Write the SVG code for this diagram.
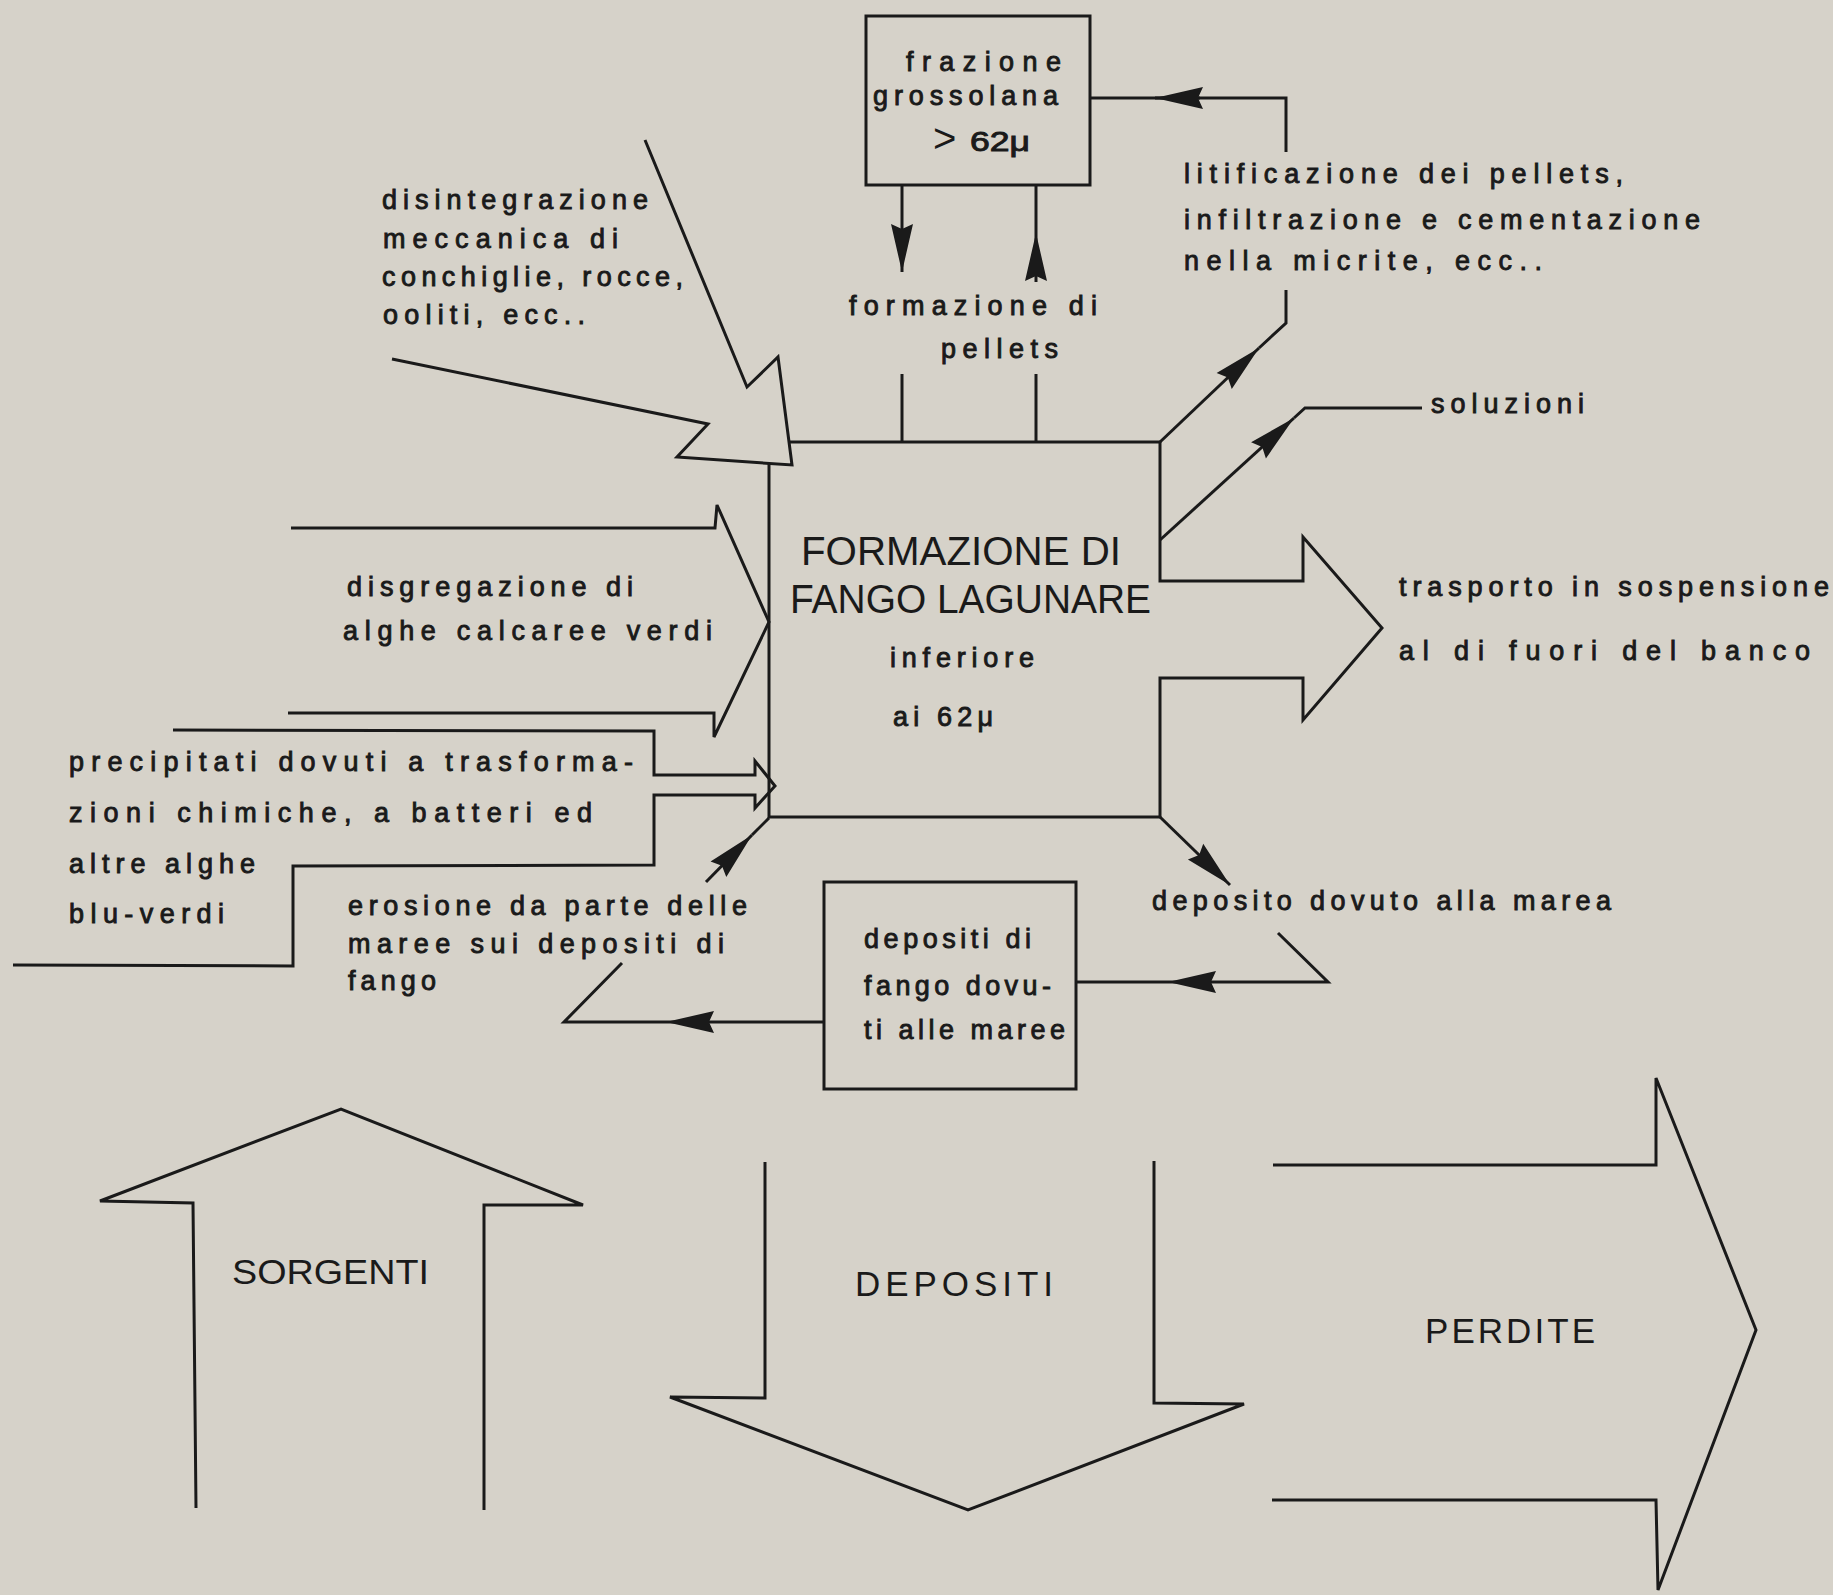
<svg xmlns="http://www.w3.org/2000/svg" width="1833" height="1595" viewBox="0 0 1833 1595">
<style>
.ln{fill:none;stroke:#1a1a1a;stroke-width:3;stroke-linejoin:miter;stroke-linecap:butt}
.t{font-family:"Liberation Sans","DejaVu Sans",sans-serif;font-size:27px;fill:#1a1a1a;stroke:#1a1a1a;stroke-width:0.9}
.T{font-family:"Liberation Sans","DejaVu Sans",sans-serif;font-size:40px;fill:#1a1a1a}
.B{font-family:"Liberation Sans","DejaVu Sans",sans-serif;font-size:35px;fill:#1a1a1a}
.arr{marker-end:url(#ah)}
</style>
<defs>
<marker id="ah" markerUnits="userSpaceOnUse" markerWidth="52" markerHeight="24" refX="48" refY="11" orient="auto" overflow="visible">
<path d="M0,0 L48,11 L0,22 L5,11 Z" fill="#1a1a1a"/>
</marker>
</defs>
<rect x="0" y="0" width="1833" height="1595" fill="#d6d2c9"/>

<g id="connectors">
<!-- litificazione -> frazione -->
<path class="ln" d="M1286,152 L1286,98 L1155,98"/>
<path class="ln arr" d="M1200,98 L1155,98"/>
<path class="ln" d="M1155,98 L1090,98"/>
<!-- frazione -> formazione pellets -->
<path class="ln arr" d="M902,185 L902,272"/>
<path class="ln arr" d="M1036,282 L1036,233"/>
<path class="ln" d="M1036,233 L1036,185"/>
<path class="ln" d="M902,374 L902,442 M1036,374 L1036,442"/>
<!-- main -> litificazione -->
<path class="ln arr" d="M1160,442 L1259,348"/>
<path class="ln" d="M1259,348 L1286,323 L1286,290"/>
<!-- main -> soluzioni -->
<path class="ln arr" d="M1160,540 L1294,418"/>
<path class="ln" d="M1294,418 L1305,408 L1422,408"/>
<!-- main -> deposito -->
<path class="ln arr" d="M1160,817 L1230,885"/>
<!-- deposito -> depositi box -->
<path class="ln arr" d="M1278,933 L1328,982 L1168,982"/>
<path class="ln" d="M1168,982 L1076,982"/>
<!-- depositi box -> erosione -->
<path class="ln arr" d="M824,1022 L666,1022"/>
<path class="ln" d="M666,1022 L564,1022 L622,963"/>
<!-- erosione -> main -->
<path class="ln arr" d="M706,882 L752,835"/>
<path class="ln" d="M752,835 L769,818"/>
<!-- big input arrows -->
<path class="ln" d="M645,140 L747,387 L778,357 L792,465 L677,457 L708,424 L392,359"/>
<path class="ln" d="M291,528 L715,528 L717,505 L769,622 L714,737 L714,713 L288,713"/>
<path class="ln" d="M173,730 L654,731 L654,775 L755,775 L755,761 L775,786 L755,808 L755,795 L654,795 L654,865 L293,866 L293,966 L13,965"/>
</g>

<g id="frazione">
<rect class="ln" x="866" y="16" width="224" height="169"/>
<text class="t" x="906" y="71" textLength="155" lengthAdjust="spacing">frazione</text>
<text class="t" x="873" y="105" textLength="185" lengthAdjust="spacing">grossolana</text>
<text x="933" y="152" font-family="Liberation Sans, sans-serif" font-size="40" fill="#1a1a1a">&gt;</text>
<text class="t" x="970" y="151" font-size="28" textLength="60" lengthAdjust="spacingAndGlyphs">62μ</text>
</g>

<g id="disintegrazione">
<text class="t" x="382" y="209" textLength="266" lengthAdjust="spacing">disintegrazione</text>
<text class="t" x="383" y="248" textLength="235" lengthAdjust="spacing">meccanica di</text>
<text class="t" x="382" y="286" textLength="301" lengthAdjust="spacing">conchiglie, rocce,</text>
<text class="t" x="383" y="324" textLength="202" lengthAdjust="spacing">ooliti, ecc..</text>
</g>

<g id="litificazione">
<text class="t" x="1184" y="183" textLength="439" lengthAdjust="spacing">litificazione dei pellets,</text>
<text class="t" x="1184" y="229" textLength="516" lengthAdjust="spacing">infiltrazione e cementazione</text>
<text class="t" x="1184" y="270" textLength="358" lengthAdjust="spacing">nella  micrite, ecc..</text>
</g>

<g id="pellets">
<text class="t" x="849" y="315" textLength="248" lengthAdjust="spacing">formazione di</text>
<text class="t" x="941" y="358" textLength="117" lengthAdjust="spacing">pellets</text>
</g>

<g id="soluzioni">
<text class="t" x="1431" y="413" textLength="153" lengthAdjust="spacing">soluzioni</text>
</g>

<g id="main">
<path class="ln" d="M789,442 L1160,442 L1160,581 L1303,581 L1303,537 L1382,628 L1303,720 L1303,678 L1160,678 L1160,817 L769,817 L769,463"/>
<text class="T" x="801" y="565" textLength="320" lengthAdjust="spacingAndGlyphs">FORMAZIONE DI</text>
<text class="T" x="790" y="613" textLength="361" lengthAdjust="spacingAndGlyphs">FANGO LAGUNARE</text>
<text class="t" x="890" y="667" textLength="144" lengthAdjust="spacing">inferiore</text>
<text class="t" x="893" y="726" textLength="100" lengthAdjust="spacing">ai 62μ</text>
</g>

<g id="trasporto">
<text class="t" x="1399" y="596" textLength="430" lengthAdjust="spacing">trasporto in sospensione</text>
<text class="t" x="1399" y="660" textLength="411" lengthAdjust="spacing">al di fuori del banco</text>
</g>

<g id="disgregazione">
<text class="t" x="347" y="596" textLength="286" lengthAdjust="spacing">disgregazione di</text>
<text class="t" x="343" y="640" textLength="369" lengthAdjust="spacing">alghe calcaree verdi</text>
</g>

<g id="precipitati">
<text class="t" x="69" y="771" textLength="564" lengthAdjust="spacing">precipitati dovuti a trasforma-</text>
<text class="t" x="69" y="822" textLength="523" lengthAdjust="spacing">zioni  chimiche, a  batteri  ed</text>
<text class="t" x="69" y="873" textLength="186" lengthAdjust="spacing">altre alghe</text>
<text class="t" x="69" y="923" textLength="155" lengthAdjust="spacing">blu-verdi</text>
</g>

<g id="erosione">
<text class="t" x="348" y="915" textLength="399" lengthAdjust="spacing">erosione da parte delle</text>
<text class="t" x="348" y="953" textLength="376" lengthAdjust="spacing">maree sui depositi di</text>
<text class="t" x="348" y="990" textLength="88" lengthAdjust="spacing">fango</text>
</g>

<g id="deposito">
<text class="t" x="1152" y="910" textLength="459" lengthAdjust="spacing">deposito dovuto  alla marea</text>
</g>

<g id="depositi-box">
<rect class="ln" x="824" y="882" width="252" height="207"/>
<text class="t" x="864" y="948" textLength="167" lengthAdjust="spacing">depositi di</text>
<text class="t" x="864" y="995" textLength="187" lengthAdjust="spacing">fango dovu-</text>
<text class="t" x="864" y="1039" textLength="201" lengthAdjust="spacing">ti alle maree</text>
</g>

<g id="sorgenti">
<path class="ln" d="M196,1508 L193,1203 L100,1201 L341,1109 L583,1205 L484,1205 L484,1510"/>
<text class="B" x="232" y="1284" textLength="197" lengthAdjust="spacingAndGlyphs">SORGENTI</text>
</g>

<g id="depositi">
<path class="ln" d="M765,1162 L765,1398 L670,1397 L968,1510 L1244,1404 L1154,1403 L1154,1161"/>
<text class="B" x="855" y="1296" textLength="198" lengthAdjust="spacing">DEPOSITI</text>
</g>

<g id="perdite">
<path class="ln" d="M1273,1165 L1656,1165 L1656,1078 L1756,1330 L1658,1590 L1656,1500 L1272,1500"/>
<text class="B" x="1425" y="1343" textLength="170" lengthAdjust="spacing">PERDITE</text>
</g>
</svg>
